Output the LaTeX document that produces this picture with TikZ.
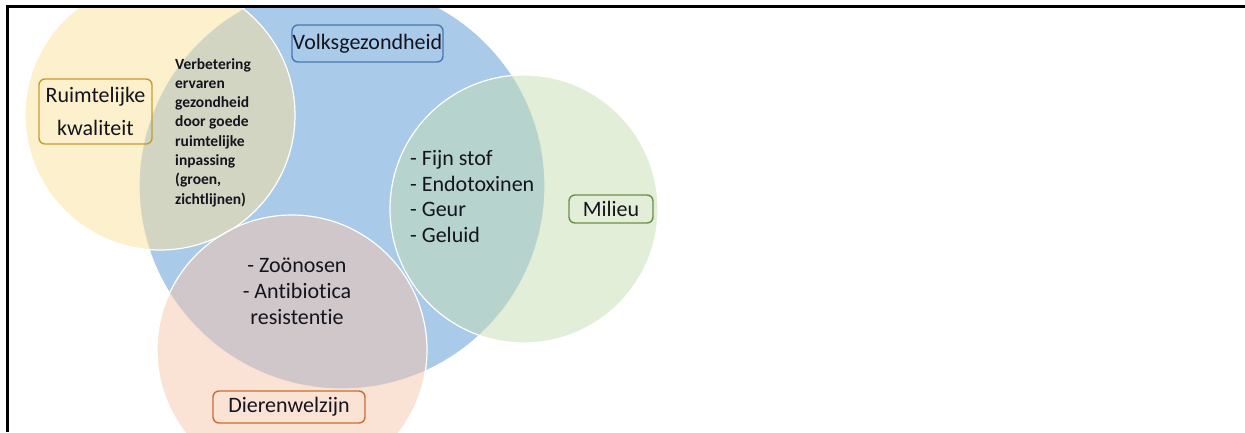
\documentclass[tikz,border=0pt]{standalone}
\usepackage{fontspec}
\setmainfont{Carlito}[Ligatures=NoCommon]
\definecolor{blueC}{RGB}{170,202,234}
\definecolor{yellowC}{RGB}{251,225,155}
\definecolor{greenC}{RGB}{197,221,177}
\definecolor{orangeC}{RGB}{245,197,169}
\definecolor{blueL}{RGB}{74,120,180}
\definecolor{yellowL}{RGB}{196,156,48}
\definecolor{greenL}{RGB}{105,145,70}
\definecolor{orangeL}{RGB}{200,110,50}
\definecolor{txt}{RGB}{20,20,30}
\tikzset{
  venn/.style={circle, inner sep=0pt, draw=white, line width=1.2pt},
  lbl/.style={rounded corners=6pt, line width=1.4pt, inner sep=0pt,
    font=\fontsize{22}{26}\selectfont, text=txt, align=center},
  listtxt/.style={inner sep=0pt, font=\fontsize{22}{25.7}\selectfont, text=txt},
  smalltxt/.style={inner sep=0pt, font=\fontsize{15.5}{19.3}\selectfont\bfseries, text=txt, align=left}
}
\begin{document}
\begin{tikzpicture}[x=1pt,y=-1pt]
\useasboundingbox (0,0) rectangle (1245,432);
\begin{scope}
\clip (9,7.5) rectangle (1245,432);
\node[venn, fill=blueC, minimum size=406pt] (blue) at (342,186) {};
\node[venn, fill=yellowC, fill opacity=0.5, minimum size=270pt] (yellow) at (160,115) {};
\node[venn, fill=greenC, fill opacity=0.5, minimum size=268pt] (green) at (524,209) {};
\node[venn, fill=orangeC, fill opacity=0.5, minimum size=270pt] (orange) at (292,350) {};
\end{scope}
\draw[line width=3pt] (7.8,432) -- (7.8,6) -- (1245,6);
\node[lbl, draw=blueL, minimum width=151pt, minimum height=37pt] (lvolks) at (367.5,43.5) {Volksgezondheid};
\node[lbl, draw=yellowL, minimum width=113pt, minimum height=65pt, font=\fontsize{22}{33}\selectfont] (lruimte) at (95.5,111.5) {Ruimtelijke\\kwaliteit};
\node[lbl, draw=greenL, minimum width=84pt, minimum height=28pt] (lmilieu) at (611,209) {Milieu};
\node[lbl, draw=orangeL, minimum width=152pt, minimum height=32pt] (ldier) at (289,407) {Dierenwelzijn};
\node[smalltxt, anchor=north west] (tverb) at (175,58) {Verbetering\\ervaren\\gezondheid\\door goede\\ruimtelijke\\inpassing\\(groen,\\zichtlijnen)};
\node[listtxt, anchor=north west, align=left] (tmilieu) at (410,150) {- Fijn stof\\- Endotoxinen\\- Geur\\- Geluid};
\node[listtxt, anchor=north, align=center] (tdier) at (297,258) {- Zoönosen\\- Antibiotica\\resistentie};
\end{tikzpicture}
\end{document}
